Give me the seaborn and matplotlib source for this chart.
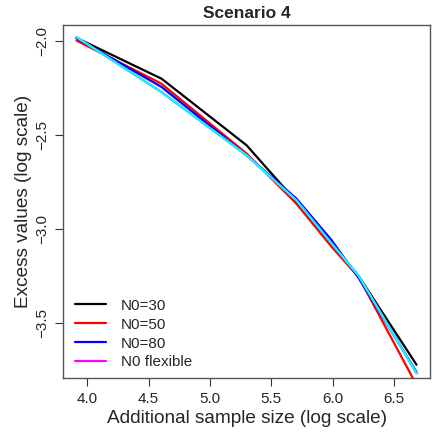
import matplotlib
matplotlib.use('Agg')

import numpy as np
import pandas as pd
import seaborn as sns
import matplotlib.pyplot as plt

# additional sample sizes (log scale)
sizes = [50, 100, 200, 300, 400, 500, 800]
log_sizes = np.log(sizes)

# excess values (log scale)
n0_30 = [-1.986, -2.203, -2.557, -2.856, -3.084, -3.255, -3.725]
n0_50 = [-2.000, -2.230, -2.601, -2.867, -3.097, -3.260, -3.833]
n0_80 = [-1.987, -2.247, -2.610, -2.840, -3.062, -3.265, -3.764]
n0_flex = [-1.982, -2.274, -2.610, -2.849, -3.079, -3.254, -3.770]

labels = ['N0=30', 'N0=50', 'N0=80', 'N0 flexible']
colors = ['black', 'red', 'blue', 'magenta']
xticks = [4.0, 4.5, 5.0, 5.5, 6.0, 6.5]
yticks = [-2.0, -2.5, -3.0, -3.5]

sns.set_style('ticks')
plt.rcParams['font.family'] = ['Liberation Sans', 'DejaVu Sans']

fig = plt.figure(figsize=(4.43, 4.43), dpi=100)
ax = fig.add_axes([0.142, 0.147, 0.829, 0.797])

for vals, lab, col in zip([n0_30, n0_50, n0_80, n0_flex], labels, colors):
    df = pd.DataFrame({'x': log_sizes, 'y': vals})
    sns.lineplot(data=df, x='x', y='y', color=col, linewidth=1.6, label=lab, ax=ax)
# cyan drawn over the flexible curve
sns.lineplot(x=log_sizes, y=n0_flex, color='cyan', linewidth=1.6, ax=ax, legend=False)

# R-style 4% padding based on the first series
xr = log_sizes.max() - log_sizes.min()
ax.set_xlim(log_sizes.min() - 0.04 * xr, log_sizes.max() + 0.04 * xr)
yr = max(n0_30) - min(n0_30)
ax.set_ylim(min(n0_30) - 0.04 * yr, max(n0_30) + 0.04 * yr)

ax.set_xticks(xticks)
ax.set_xticklabels([f'{t:.1f}' for t in xticks])
ax.set_yticks(yticks)
ax.set_yticklabels([f'{t:.1f}'.replace('-', '\u2212') for t in yticks], rotation=90, va='center')
ax.tick_params(axis='both', length=6, width=0.8, color='#333333', labelsize=11, pad=4)

for s in ax.spines.values():
    s.set_visible(True)
    s.set_color('#555555')
    s.set_linewidth(1.0)

ax.set_title('Scenario 4', fontsize=12.5, fontweight='bold', pad=5)
ax.set_xlabel('Additional sample size (log scale)', fontsize=13.7, labelpad=3)
ax.set_ylabel('Excess values (log scale)', fontsize=13.7, labelpad=2)

leg = ax.legend(loc='lower left', frameon=False, fontsize=11, handlelength=2.0,
                handletextpad=1.0, labelspacing=0.32, borderaxespad=0.15,
                bbox_to_anchor=(0.01, 0.0))

plt.savefig('out.png', dpi=100)
plt.close()
